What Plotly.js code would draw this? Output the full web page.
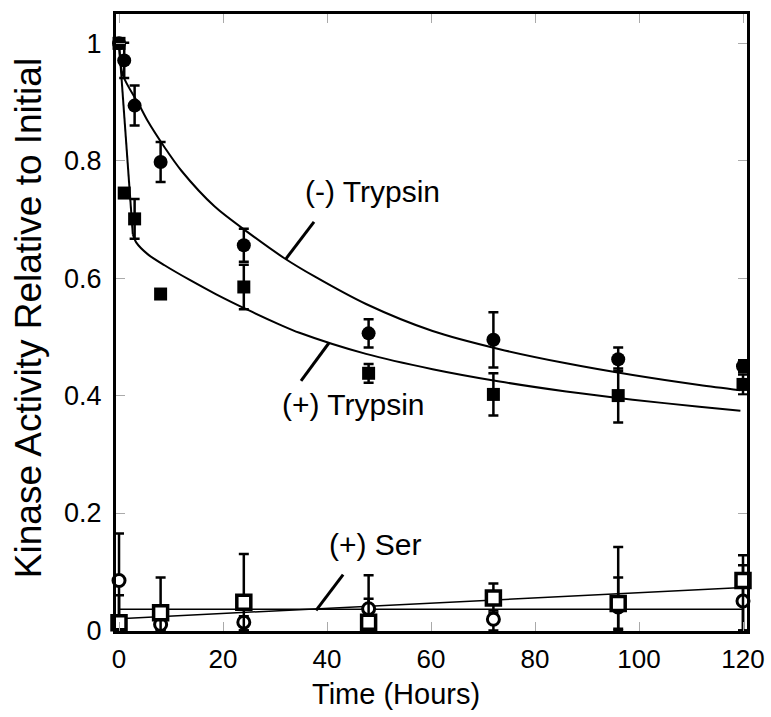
<!DOCTYPE html>
<html>
<head>
<meta charset="utf-8">
<script src="https://cdn.plot.ly/plotly-3.0.1.min.js"></script>
<style>
html,body{margin:0;padding:0;background:#fff;}
#chart{width:771px;height:717px;}
</style>
</head>
<body>
<div id="chart"></div>
<script>
// ---- Data ----
// (-) Trypsin, filled circles
const minusTrypsinTime = [0, 1, 3, 8, 24, 48, 72, 96, 120];
const minusTrypsinActivity = [1.0, 0.971, 0.894, 0.798, 0.656, 0.506, 0.495, 0.462, 0.450];
const minusTrypsinError = [0.0, 0.030, 0.034, 0.034, 0.028, 0.024, 0.047, 0.020, 0.010];

// (+) Trypsin, filled squares
const plusTrypsinTime = [0, 1, 3, 8, 24, 48, 72, 96, 120];
const plusTrypsinActivity = [1.0, 0.745, 0.701, 0.573, 0.585, 0.438, 0.402, 0.400, 0.419];
const plusTrypsinError = [0.0, 0.005, 0.034, 0.008, 0.038, 0.016, 0.036, 0.046, 0.017];

// (+) Ser, open circles
const serCircleTime = [0, 8, 24, 48, 72, 96, 120];
const serCircleActivity = [0.085, 0.010, 0.014, 0.037, 0.019, 0.040, 0.050];
const serCircleErrorPlus = [0.080, 0.010, 0.010, 0.057, 0.015, 0.050, 0.061];
const serCircleErrorMinus = [0.080, 0.010, 0.014, 0.037, 0.019, 0.037, 0.050];

// (+) Ser, open squares
const serSquareTime = [0, 8, 24, 48, 72, 96, 120];
const serSquareActivity = [0.013, 0.030, 0.048, 0.014, 0.055, 0.046, 0.085];
const serSquareErrorPlus = [0.047, 0.060, 0.082, 0.040, 0.025, 0.096, 0.043];
const serSquareErrorMinus = [0.013, 0.030, 0.048, 0.014, 0.025, 0.046, 0.085];

// Fitted curves
const minusFitTime = [0, 0.73, 3.94, 5.5, 8.75, 12.0, 18.4, 24.8, 31.8, 37.6, 47.5, 60.3, 73.2, 86.0, 98.8, 111.6, 119.5];
const minusFitActivity = [1.0, 0.946, 0.894, 0.868, 0.823, 0.783, 0.722, 0.678, 0.634, 0.603, 0.556, 0.510, 0.479, 0.455, 0.435, 0.418, 0.409];

const plusFitSteepTime = [0, 2.65];
const plusFitSteepActivity = [1.0, 0.675];
const plusFitTime = [2.65, 3.3, 5.5, 8.75, 13.6, 18.6, 25.0, 30.9, 34.7, 47.5, 60.3, 73.2, 86.0, 98.8, 111.6, 119.5];
const plusFitActivity = [0.675, 0.661, 0.641, 0.622, 0.597, 0.573, 0.545, 0.521, 0.507, 0.471, 0.445, 0.424, 0.407, 0.393, 0.381, 0.374];

const serFlatTime = [0, 120];
const serFlatActivity = [0.036, 0.036];
const serSlopeTime = [0, 120];
const serSlopeActivity = [0.020, 0.073];

// Tick values / labels
const xTickVals = [0, 20, 40, 60, 80, 100, 120];
const xTickText = ['0', '20', '40', '60', '80', '100', '120'];
const yTickVals = [0, 0.2, 0.4, 0.6, 0.8, 1];
const yTickText = ['0', '0.2', '0.4', '0.6', '0.8', '1'];

// ---- Traces ----
const FONT = 'Liberation Sans, Arial, Helvetica, sans-serif';
const errStyle = {thickness: 2.5, width: 5, color: '#000'};

const traces = [
  {x: minusFitTime, y: minusFitActivity, mode: 'lines', line: {color: '#000', width: 2, shape: 'spline', smoothing: 0.8}, hoverinfo: 'skip', name: '(-) Trypsin fit'},
  {x: plusFitSteepTime, y: plusFitSteepActivity, mode: 'lines', line: {color: '#000', width: 2}, hoverinfo: 'skip', name: '(+) Trypsin fit (initial)'},
  {x: plusFitTime, y: plusFitActivity, mode: 'lines', line: {color: '#000', width: 2, shape: 'spline', smoothing: 0.8}, hoverinfo: 'skip', name: '(+) Trypsin fit'},
  {x: serFlatTime, y: serFlatActivity, mode: 'lines', line: {color: '#000', width: 1.5}, hoverinfo: 'skip', name: '(+) Ser fit a'},
  {x: serSlopeTime, y: serSlopeActivity, mode: 'lines', line: {color: '#000', width: 1.5}, hoverinfo: 'skip', name: '(+) Ser fit b'},
  {
    x: serCircleTime, y: serCircleActivity, mode: 'markers', name: '(+) Ser (circles)',
    marker: {symbol: 'circle', size: 12, color: '#fff', line: {color: '#000', width: 3}},
    error_y: Object.assign({type: 'data', symmetric: false, array: serCircleErrorPlus, arrayminus: serCircleErrorMinus}, errStyle),
    cliponaxis: false
  },
  {
    x: serSquareTime, y: serSquareActivity, mode: 'markers', name: '(+) Ser (squares)',
    marker: {symbol: 'square', size: 14, color: '#fff', line: {color: '#000', width: 3.5}},
    error_y: Object.assign({type: 'data', symmetric: false, array: serSquareErrorPlus, arrayminus: serSquareErrorMinus}, errStyle),
    cliponaxis: false
  },
  {
    x: plusTrypsinTime, y: plusTrypsinActivity, mode: 'markers', name: '(+) Trypsin',
    marker: {symbol: 'square', size: 13, color: '#000'},
    error_y: Object.assign({type: 'data', array: plusTrypsinError}, errStyle),
    cliponaxis: false
  },
  {
    x: minusTrypsinTime, y: minusTrypsinActivity, mode: 'markers', name: '(-) Trypsin',
    marker: {symbol: 'circle', size: 14, color: '#000'},
    error_y: Object.assign({type: 'data', array: minusTrypsinError}, errStyle),
    cliponaxis: false
  }
];

const axisCommon = {
  showgrid: false, zeroline: false,
  showline: true, linecolor: '#000', linewidth: 3, mirror: 'allticks',
  ticks: 'inside', ticklen: 9, tickwidth: 1, tickcolor: '#aaa',
  tickmode: 'array'
};

const layout = {
  width: 771, height: 717,
  margin: {l: 116, r: 24, t: 14, b: 86, pad: 0},
  paper_bgcolor: '#fff', plot_bgcolor: '#fff',
  showlegend: false,
  font: {family: FONT, color: '#000'},
  xaxis: Object.assign({}, axisCommon, {range: [-0.58, 120.77], tickvals: xTickVals, ticktext: xTickText, ticklabelstandoff: 3,
    tickfont: {family: FONT, size: 26, color: '#000'}}),
  yaxis: Object.assign({}, axisCommon, {range: [-0.001, 1.05], tickvals: yTickVals, ticktext: yTickText, ticklabelstandoff: 6,
    tickfont: {family: FONT, size: 27, color: '#000'}}),
  annotations: [
    {xref: 'paper', yref: 'paper', x: 0.4437, y: -0.1025, text: 'Time (Hours)', showarrow: false,
     xanchor: 'center', yanchor: 'middle', font: {family: FONT, size: 29, color: '#000'}},
    {xref: 'paper', yref: 'paper', x: -0.1395, y: 0.507, text: 'Kinase Activity Relative to Initial', showarrow: false,
     textangle: -90, xanchor: 'center', yanchor: 'middle', font: {family: FONT, size: 37, color: '#000'}},
    {x: 48.8, y: 0.747, text: '(-) Trypsin', showarrow: false, xanchor: 'center', yanchor: 'middle',
     font: {family: FONT, size: 30, color: '#000'}},
    {x: 45.0, y: 0.384, text: '(+) Trypsin', showarrow: false, xanchor: 'center', yanchor: 'middle',
     font: {family: FONT, size: 30, color: '#000'}},
    {x: 49.4, y: 0.146, text: '(+) Ser', showarrow: false, xanchor: 'center', yanchor: 'middle',
     font: {family: FONT, size: 30, color: '#000'}}
  ],
  shapes: [
    {type: 'line', xref: 'x', yref: 'y', x0: 32.1, y0: 0.633, x1: 37.5, y1: 0.696, line: {color: '#000', width: 3}},
    {type: 'line', xref: 'x', yref: 'y', x0: 40.4, y0: 0.490, x1: 35.0, y1: 0.425, line: {color: '#000', width: 3}},
    {type: 'line', xref: 'x', yref: 'y', x0: 37.9, y0: 0.034, x1: 43.1, y1: 0.095, line: {color: '#000', width: 3}}
  ]
};

Plotly.newPlot('chart', traces, layout, {displayModeBar: false, staticPlot: true});
</script>
</body>
</html>
